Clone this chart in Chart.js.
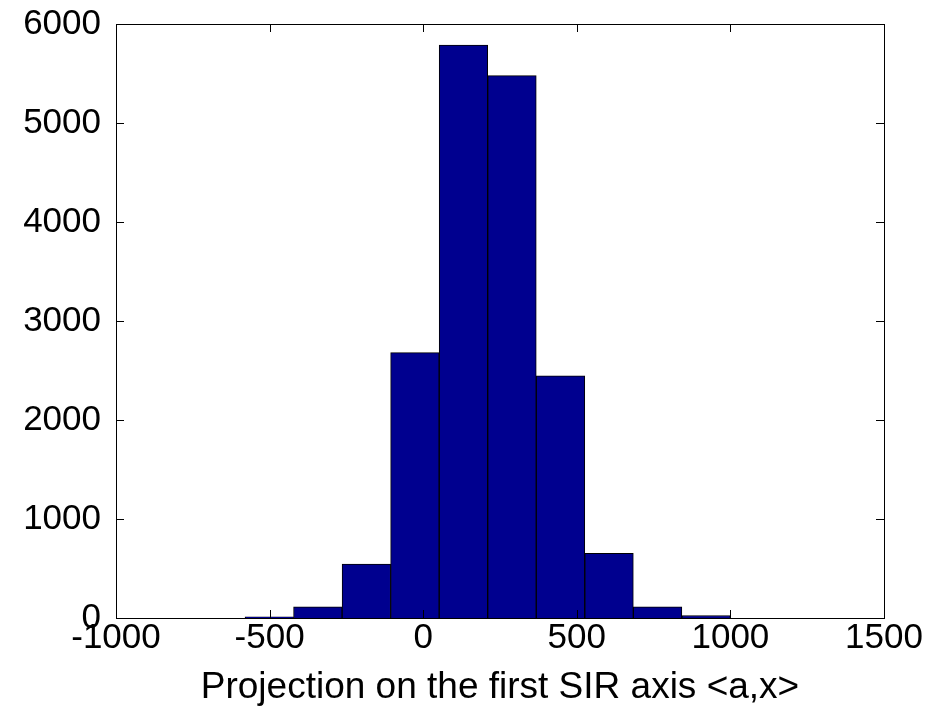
<!DOCTYPE html>
<html>
<head>
<meta charset="utf-8">
<script src="https://cdn.jsdelivr.net/npm/chart.js@4/dist/chart.umd.min.js"></script>
<style>
  html, body { margin: 0; padding: 0; background: #fff; }
  #wrap { width: 948px; height: 707px; }
</style>
</head>
<body>
<div id="wrap"><canvas id="hist" width="948" height="707"></canvas></div>
<script>
// histogram bins (centres) and counts
const binCenters = [-501, -343, -185, -27, 131, 289, 447, 605, 763, 921];
const counts = [12, 112, 545, 2680, 5788, 5478, 2447, 653, 112, 25];

const xTicks = [-1000, -500, 0, 500, 1000, 1500];
const yTicks = [0, 1000, 2000, 3000, 4000, 5000, 6000];
const xTitle = "Projection on the first SIR axis <a,x>";

const FONT = "'Liberation Sans', Arial, sans-serif";

// MATLAB style box + inward tick marks on all four sides
const inwardTicks = {
    id: "inwardTicks",
    afterDraw(chart) {
        const { ctx, chartArea: a, scales } = chart;
        const len = 8;
        ctx.save();
        ctx.strokeStyle = "#000";
        ctx.lineWidth = 1;
        ctx.beginPath();
        xTicks.forEach(v => {
            const px = Math.round(scales.x.getPixelForValue(v)) + 0.5;
            ctx.moveTo(px, a.bottom); ctx.lineTo(px, a.bottom - len);
            ctx.moveTo(px, a.top); ctx.lineTo(px, a.top + len);
        });
        yTicks.forEach(v => {
            const py = Math.round(scales.y.getPixelForValue(v)) + 0.5;
            ctx.moveTo(a.left, py); ctx.lineTo(a.left + len, py);
            ctx.moveTo(a.right, py); ctx.lineTo(a.right - len, py);
        });
        ctx.stroke();
        ctx.strokeRect(Math.round(a.left) + 0.5, Math.round(a.top) + 0.5,
            Math.round(a.right - a.left), Math.round(a.bottom - a.top));
        ctx.restore();
    }
};

const ctx = document.getElementById("hist").getContext("2d");
new Chart(ctx, {
    type: "bar",
    data: {
        datasets: [{
            data: binCenters.map((c, i) => ({ x: c, y: counts[i] })),
            backgroundColor: "#00008F",
            borderColor: "#000",
            borderWidth: 1,
            barPercentage: 1,
            categoryPercentage: 1
        }]
    },
    options: {
        responsive: false,
        animation: false,
        layout: { padding: { top: 24, right: 64, left: 0, bottom: 0 } },
        plugins: { legend: { display: false }, tooltip: { enabled: false } },
        scales: {
            x: {
                type: "linear",
                offset: false,
                min: -1000,
                max: 1500,
                afterBuildTicks: s => { s.ticks = xTicks.map(v => ({ value: v })); },
                afterFit: s => { s.height = 89; s.paddingLeft = 0; s.paddingRight = 0; },
                grid: { display: false, drawTicks: false, offset: false },
                border: { display: false },
                ticks: { color: "#000", font: { family: FONT, size: 35 }, padding: -1, maxRotation: 0,
                         callback: v => String(v) },
                title: { display: true, text: xTitle, color: "#000", font: { family: FONT, size: 37 },
                         padding: { top: 0, bottom: -3 } }
            },
            y: {
                min: 0,
                max: 6000,
                afterBuildTicks: s => { s.ticks = yTicks.map(v => ({ value: v })); },
                afterFit: s => { s.width = 116; s.paddingTop = 0; s.paddingBottom = 0; },
                grid: { display: false, drawTicks: false },
                border: { display: false },
                ticks: { color: "#000", font: { family: FONT, size: 35 }, padding: 15,
                         callback: v => String(v) }
            }
        }
    },
    plugins: [inwardTicks]
});
</script>
</body>
</html>
